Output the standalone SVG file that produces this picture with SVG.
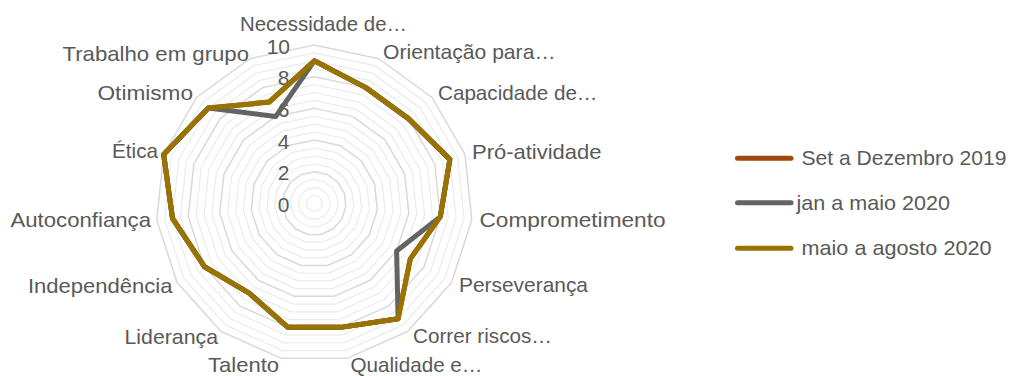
<svg xmlns="http://www.w3.org/2000/svg" xmlns:xlink="http://www.w3.org/1999/xlink" width="1011" height="376" viewBox="0 0 1011 376">
<style>
text{font-family:"Liberation Sans",Arial,sans-serif;font-size:21px;fill:#595959}
.minor{fill:none;stroke:#EBEBEB;stroke-width:1.2}
.major{fill:none;stroke:#D9D9D9;stroke-width:1.5}
.s{fill:none;stroke-width:5;stroke-linejoin:round;stroke-linecap:round}
.c1{stroke:#9E480E}.c2{stroke:#636363}.c3{stroke:#997300}
.tick{text-anchor:end}
</style>
<defs>
<polygon id="pg" vector-effect="non-scaling-stroke" points="0,-100 40.674,-91.355 74.314,-66.913 95.106,-30.902 99.452,10.453 86.603,50 58.779,80.902 20.791,97.815 -20.791,97.815 -58.779,80.902 -86.603,50 -99.452,10.453 -95.106,-30.902 -74.314,-66.913 -40.674,-91.355"/>
</defs>
<rect width="1011" height="376" fill="#FFFFFF"/>
<g id="grid" transform="translate(314.3,203.4)">
<g class="minor">
<use xlink:href="#pg" transform="scale(0.0792)"/>
<use xlink:href="#pg" transform="scale(0.1584)"/>
<use xlink:href="#pg" transform="scale(0.2376)"/>
<use xlink:href="#pg" transform="scale(0.396)"/>
<use xlink:href="#pg" transform="scale(0.4752)"/>
<use xlink:href="#pg" transform="scale(0.5544)"/>
<use xlink:href="#pg" transform="scale(0.7128)"/>
<use xlink:href="#pg" transform="scale(0.792)"/>
<use xlink:href="#pg" transform="scale(0.8712)"/>
<use xlink:href="#pg" transform="scale(1.0296)"/>
<use xlink:href="#pg" transform="scale(1.1088)"/>
<use xlink:href="#pg" transform="scale(1.188)"/>
<use xlink:href="#pg" transform="scale(1.3464)"/>
<use xlink:href="#pg" transform="scale(1.4256)"/>
<use xlink:href="#pg" transform="scale(1.5048)"/>
</g>
<g class="major">
<use xlink:href="#pg" transform="scale(0.3168)"/>
<use xlink:href="#pg" transform="scale(0.6336)"/>
<use xlink:href="#pg" transform="scale(0.9504)"/>
<use xlink:href="#pg" transform="scale(1.2672)"/>
<use xlink:href="#pg" transform="scale(1.584)"/>
</g>
</g>
<g id="ticks">
<text class="tick" x="290" y="53.5">10</text>
<text class="tick" x="289.5" y="85.2">8</text>
<text class="tick" x="289.5" y="116.9">6</text>
<text class="tick" x="289.5" y="148.6">4</text>
<text class="tick" x="289.5" y="180.2">2</text>
<text class="tick" x="289.5" y="211.9">0</text>
</g>
<g id="series">
<polygon id="series-set-dez-2019" class="s c1" points="314.3,60.84 365.84,87.63 408.47,118.61 449.88,159.35 440.33,216.65 410.33,258.84 398.1,318.74 340.65,327.35 287.95,327.35 249.13,293.1 204.56,266.76 172.52,218.3 163.65,154.45 208.36,108.01 269.2,102.11"/>
<polygon id="series-jan-mai-2020" class="s c2" points="314.3,60.84 365.84,87.63 408.47,118.61 449.88,159.35 440.33,216.65 396.61,250.92 398.1,318.74 340.65,327.35 287.95,327.35 249.13,293.1 204.56,266.76 172.52,218.3 163.65,154.45 208.36,108.01 275.64,116.58"/>
<polygon id="series-mai-ago-2020" class="s c3" points="314.3,60.84 365.84,87.63 408.47,118.61 449.88,159.35 440.33,216.65 410.33,258.84 398.1,318.74 340.65,327.35 287.95,327.35 249.13,293.1 204.56,266.76 172.52,218.3 163.65,154.45 208.36,108.01 269.2,102.11"/>
</g>
<g id="axis-labels">
<text x="240" y="31" textLength="167" lengthAdjust="spacingAndGlyphs">Necessidade de…</text>
<text x="383" y="59" textLength="172.5" lengthAdjust="spacingAndGlyphs">Orientação para…</text>
<text x="438" y="100" textLength="159.5" lengthAdjust="spacingAndGlyphs">Capacidade de…</text>
<text x="472" y="159.3" textLength="129.5" lengthAdjust="spacingAndGlyphs">Pró-atividade</text>
<text x="479.5" y="227.3" textLength="186" lengthAdjust="spacingAndGlyphs">Comprometimento</text>
<text x="459" y="291.7" textLength="129" lengthAdjust="spacingAndGlyphs">Perseverança</text>
<text x="413" y="343.3" textLength="139" lengthAdjust="spacingAndGlyphs">Correr riscos…</text>
<text x="350.5" y="371.7" textLength="132" lengthAdjust="spacingAndGlyphs">Qualidade e…</text>
<text x="208" y="371.7" textLength="71" lengthAdjust="spacingAndGlyphs">Talento</text>
<text x="124.5" y="344.3" textLength="93.5" lengthAdjust="spacingAndGlyphs">Liderança</text>
<text x="28" y="292.7" textLength="144.5" lengthAdjust="spacingAndGlyphs">Independência</text>
<text x="10.5" y="227.3" textLength="140.5" lengthAdjust="spacingAndGlyphs">Autoconfiança</text>
<text x="112" y="158.3" textLength="46" lengthAdjust="spacingAndGlyphs">Ética</text>
<text x="97.5" y="100" textLength="95.5" lengthAdjust="spacingAndGlyphs">Otimismo</text>
<text x="62.5" y="61" textLength="186.5" lengthAdjust="spacingAndGlyphs">Trabalho em grupo</text>
</g>
<g id="legend">
<line class="s c1" x1="737.5" y1="158.3" x2="791" y2="158.3"/>
<text x="801.5" y="165" textLength="205" lengthAdjust="spacingAndGlyphs">Set a Dezembro 2019</text>
<line class="s c2" x1="737.5" y1="202.7" x2="791" y2="202.7"/>
<text x="796.5" y="210" textLength="153.5" lengthAdjust="spacingAndGlyphs">jan a maio 2020</text>
<line class="s c3" x1="737.5" y1="248.3" x2="791" y2="248.3"/>
<text x="801.5" y="254.5" textLength="190" lengthAdjust="spacingAndGlyphs">maio a agosto 2020</text>
</g>
</svg>
